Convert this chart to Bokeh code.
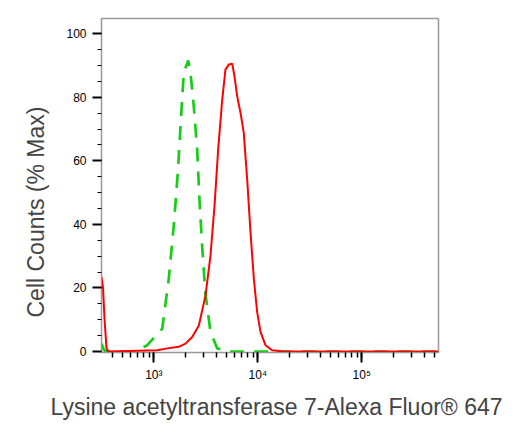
from bokeh.plotting import figure
from bokeh.models import Range1d, SingleIntervalTicker, Title, LogTicker
from bokeh.embed import file_html
from bokeh.resources import INLINE

# Isotype control (green dashed): fluorescence intensity vs % max
ctrl_x = [314, 331, 355, 667, 865, 1205, 1393, 1556, 1702, 1807, 1941, 2143, 2254,
          2427, 2612, 2767, 2917, 3126, 3508, 4074, 5458, 547000]
ctrl_y = [2.5, 0.5, 0, 0, 2, 7.2, 22.9, 39.6, 56.3, 71, 87.7, 91.6, 87.7,
          77, 63.6, 45.9, 33.3, 18.7, 6.2, 1, 0, 0]

# Lysine acetyltransferase 7 stained (red solid)
stain_x = [314, 325, 336, 351, 366, 1079, 1346, 1738, 2018, 2339, 2710, 3141, 3508,
           3837, 4159, 4550, 4887, 5260, 5675, 5970, 6339, 6823, 7328, 7907, 8511,
           9162, 9863, 10617, 11858, 13740, 17783, 547000]
stain_y = [23.5, 20, 10, 1, 0, 0.4, 1, 1.5, 2.5, 4.6, 8.2, 17.6, 30.2,
           45.9, 63.6, 79.3, 88.7, 90.3, 90.6, 86.6, 80.3, 75.1, 68.9, 54.2, 37.5,
           22.9, 12.4, 6.2, 2, 0.4, 0, 0]

x_tick_labels = {1000: "10³", 10000: "10⁴", 100000: "10⁵"}

x_title = "Lysine acetyltransferase 7-Alexa Fluor® 647"
y_title = "Cell Counts (% Max)"

FONT = "Liberation Sans"

p = figure(width=514, height=426, x_axis_type="log",
           x_range=Range1d(314, 547000), y_range=Range1d(-0.3, 104.8),
           output_backend="svg", toolbar_location=None,
           min_border_left=101, min_border_right=76, min_border_top=18, min_border_bottom=73)

p.background_fill_color = "white"
p.border_fill_color = "white"
p.outline_line_color = "#999999"
p.outline_line_width = 1.5
p.xgrid.visible = False
p.ygrid.visible = False

p.line(ctrl_x, ctrl_y, line_color="#18cc18", line_width=2.7, line_dash="14 10")
p.line(stain_x, stain_y, line_color="#ff0000", line_width=2)

xa = p.xaxis[0]
xa.ticker = LogTicker(desired_num_ticks=4, num_minor_ticks=10)
xa.major_label_overrides = x_tick_labels
xa.major_label_text_font = FONT
xa.major_label_text_font_size = "12px"
xa.major_label_text_color = "black"
xa.major_label_text_align = "left"
xa.axis_line_color = "#999999"
xa.major_tick_out = 10
xa.major_tick_in = 0
xa.minor_tick_out = 5
xa.minor_tick_in = 0
xa.major_tick_line_width = 2
xa.minor_tick_line_width = 1.5
xa.major_tick_line_color = "black"
xa.minor_tick_line_color = "black"

ya = p.yaxis[0]
ya.ticker = SingleIntervalTicker(interval=20, num_minor_ticks=4)
ya.major_label_text_font = FONT
ya.major_label_text_font_size = "12px"
ya.major_label_text_color = "black"
ya.axis_line_color = "#999999"
ya.major_tick_out = 9
ya.major_tick_in = 0
ya.minor_tick_out = 4
ya.minor_tick_in = 0
ya.major_tick_line_width = 2
ya.minor_tick_line_width = 1
ya.major_tick_line_color = "black"
ya.minor_tick_line_color = "black"
ya.major_label_standoff = 6

p.add_layout(Title(text=x_title, text_font=FONT, text_font_size="23px",
                   text_font_style="normal", align="left", offset=-51, standoff=14), "below")
p.add_layout(Title(text=y_title, text_font=FONT, text_font_size="23px",
                   text_font_style="normal", align="left", offset=35, standoff=30), "left")

open("out.html", "w").write(file_html(p, INLINE))
